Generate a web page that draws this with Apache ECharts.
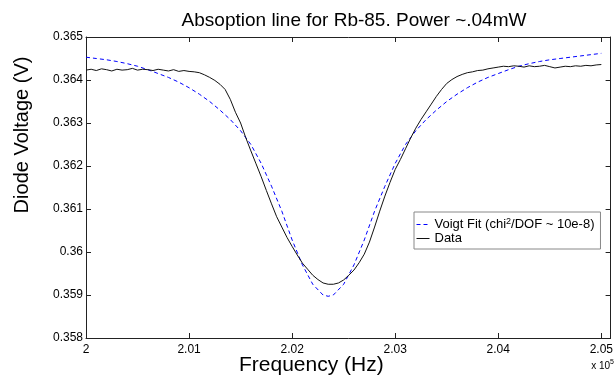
<!DOCTYPE html>
<html>
<head>
<meta charset="utf-8">
<script src="https://cdn.jsdelivr.net/npm/echarts@6/dist/echarts.min.js"></script>
<style>html,body{margin:0;padding:0;background:#fff}#c{width:616px;height:379px}</style>
</head>
<body>
<div id="c"></div>
<script>
// Frequency in units of 1e5 Hz (axis multiplier "x 10^5")
var fitFreq = [2.000,2.001,2.002,2.003,2.004,2.005,2.006,2.007,2.008,2.009,2.010,2.011,2.012,2.013,2.014,2.015,2.016,2.017,2.018,2.019,2.020,2.021,2.022,2.023,2.0235,2.024,2.025,2.026,2.027,2.028,2.029,2.030,2.031,2.032,2.033,2.034,2.035,2.036,2.037,2.038,2.039,2.040,2.041,2.042,2.043,2.044,2.045,2.046,2.047,2.048,2.049,2.050];
var fitVolt = [0.36453,0.36450,0.36447,0.36443,0.36438,0.36432,0.36424,0.36415,0.36406,0.36395,0.36382,0.36367,0.36350,0.36330,0.36308,0.36282,0.36250,0.36206,0.36153,0.36095,0.36028,0.35970,0.35925,0.35900,0.35897,0.35900,0.35925,0.35970,0.36028,0.36095,0.36153,0.36206,0.36250,0.36282,0.36308,0.36330,0.36350,0.36367,0.36382,0.36395,0.36406,0.36415,0.36424,0.36432,0.36438,0.36443,0.36447,0.36450,0.36453,0.36456,0.36459,0.36462];

var dataFreq = [2.0000,2.0005,2.0010,2.0015,2.0020,2.0025,2.0030,2.0035,2.0040,2.0045,2.0050,2.0055,2.0060,2.0065,2.0070,2.0075,2.0080,2.0085,2.0090,2.0095,2.0100,2.0105,2.0110,2.0115,2.0120,2.0125,2.0130,2.0135,2.0140,2.0145,2.0150,2.0155,2.0160,2.0165,2.0170,2.0175,2.0180,2.0185,2.0190,2.0195,2.0200,2.0205,2.0210,2.0215,2.0220,2.0225,2.0230,2.0235,2.0240,2.0245,2.0250,2.0255,2.0260,2.0265,2.0270,2.0275,2.0280,2.0285,2.0290,2.0295,2.0300,2.0305,2.0310,2.0315,2.0320,2.0325,2.0330,2.0335,2.0340,2.0345,2.0350,2.0355,2.0360,2.0365,2.0370,2.0375,2.0380,2.0385,2.0390,2.0395,2.0400,2.0405,2.0410,2.0415,2.0420,2.0425,2.0430,2.0435,2.0440,2.0445,2.0450,2.0455,2.0460,2.0465,2.0470,2.0475,2.0480,2.0485,2.0490,2.0495,2.0500];
var dataVolt = [0.36423,0.36425,0.36422,0.36426,0.36424,0.36421,0.36425,0.36423,0.36424,0.36427,0.36423,0.36425,0.36424,0.36422,0.36425,0.36423,0.36421,0.36424,0.36420,0.36422,0.36420,0.36419,0.36417,0.36412,0.36406,0.36399,0.36390,0.36378,0.36355,0.36325,0.36300,0.36266,0.36235,0.36205,0.36175,0.36143,0.36112,0.36082,0.36058,0.36034,0.36013,0.35993,0.35974,0.35960,0.35946,0.35936,0.35928,0.35925,0.35925,0.35928,0.35935,0.35946,0.35958,0.35975,0.35995,0.36023,0.36058,0.36095,0.36130,0.36162,0.36192,0.36215,0.36240,0.36265,0.36288,0.36308,0.36326,0.36344,0.36362,0.36378,0.36392,0.36401,0.36408,0.36413,0.36417,0.36419,0.36422,0.36423,0.36426,0.36428,0.36430,0.36432,0.36431,0.36433,0.36432,0.36430,0.36433,0.36431,0.36432,0.36434,0.36431,0.36428,0.36430,0.36432,0.36431,0.36433,0.36432,0.36434,0.36433,0.36435,0.36436];

var xTicks = [2, 2.01, 2.02, 2.03, 2.04, 2.05];
var yTicks = [0.358, 0.359, 0.36, 0.361, 0.362, 0.363, 0.364, 0.365];
var fitName = 'Voigt Fit (chi^2/DOF ~ 10e-8)';
var dataName = 'Data';
var titleText = 'Absoption line for Rb-85. Power ~.04mW';
var xLabel = 'Frequency (Hz)';
var yLabel = 'Diode Voltage (V)';

var FONT = 'Liberation Sans, Arial, Helvetica, sans-serif';
var chart = echarts.init(document.getElementById('c'), null, {renderer: 'canvas'});

function fmtX(v) {
  var r = Math.round(v * 100) / 100;
  return r === 2 ? '2' : r.toFixed(2);
}
function fmtY(v) {
  return String(parseFloat(v.toFixed(3)));
}
var axisLineStyle = {color: '#222', width: 1};
var tickStyle = {color: '#222', width: 1};
function xAxisDef(pos, showLabel) {
  return {
    type: 'value', position: pos, min: xTicks[0], max: 2.0509, interval: 0.01,
    splitLine: {show: false},
    axisLine: {show: true, onZero: false, lineStyle: axisLineStyle},
    axisTick: {show: true, inside: true, length: 5, lineStyle: tickStyle},
    axisLabel: {show: showLabel, margin: 6, color: '#000', fontFamily: FONT, fontSize: 12,
      showMaxLabel: false, formatter: fmtX}
  };
}
function yAxisDef(pos, showLabel) {
  return {
    type: 'value', position: pos, min: yTicks[0], max: yTicks[yTicks.length - 1], interval: 0.001,
    splitLine: {show: false},
    axisLine: {show: true, onZero: false, lineStyle: axisLineStyle},
    axisTick: {show: true, inside: true, length: 5, lineStyle: tickStyle},
    axisLabel: {show: showLabel, margin: 3, color: '#000', fontFamily: FONT, fontSize: 12, formatter: fmtY}
  };
}

chart.setOption({
  animation: false,
  backgroundColor: '#fff',
  title: {
    text: titleText, left: 349, top: 6, textAlign: 'center',
    textStyle: {fontFamily: FONT, fontSize: 19, fontWeight: 'normal', color: '#000'}
  },
  grid: {left: 86, right: 3, top: 37, bottom: 41, containLabel: false},
  xAxis: [xAxisDef('bottom', true), xAxisDef('top', false)],
  yAxis: [yAxisDef('left', true), yAxisDef('right', false)],
  legend: {
    orient: 'vertical', left: 414, top: 212,
    backgroundColor: '#fff', borderColor: '#888', borderWidth: 1,
    padding: [5, 6, 4, 2], itemGap: 1, itemWidth: 13, itemHeight: 10,
    itemStyle: {opacity: 0},
    lineStyle: {width: 1},
    data: [fitName, dataName],
    formatter: function (n) {
      if (n === fitName) return '{t|Voigt Fit (chi}{s|2}{t|/DOF ~ 10e-8)}';
      return '{t|' + n + '}';
    },
    textStyle: {
      fontFamily: FONT, fontSize: 13, color: '#000',
      rich: {
        t: {fontFamily: FONT, fontSize: 13, color: '#000', lineHeight: 15},
        s: {fontFamily: FONT, fontSize: 9, color: '#000', verticalAlign: 'top', lineHeight: 15}
      }
    }
  },
  graphic: [
    {type: 'text', left: 311 - 72, top: 355,
      style: {text: xLabel, font: '21px ' + FONT, fill: '#000'}},
    {type: 'text', x: 22, y: 135, rotation: Math.PI / 2,
      style: {text: yLabel, font: '20px ' + FONT, fill: '#000', textAlign: 'center', textVerticalAlign: 'middle'}},
    {type: 'text', right: 2, top: 359,
      style: {
        text: '{a|x 10}{b|5}',
        rich: {
          a: {fontFamily: FONT, fontSize: 10, fill: '#000', lineHeight: 14},
          b: {fontFamily: FONT, fontSize: 7, fill: '#000', verticalAlign: 'top', lineHeight: 14}
        }
      }}
  ],
  series: [
    {
      name: fitName, type: 'line', showSymbol: false, symbol: 'none',
      data: fitFreq.map(function (f, i) { return [f, fitVolt[i]]; }),
      lineStyle: {color: '#0000ff', width: 1, type: [4, 3]},
      itemStyle: {color: '#0000ff'}, z: 2
    },
    {
      name: dataName, type: 'line', showSymbol: false, symbol: 'none',
      data: dataFreq.map(function (f, i) { return [f, dataVolt[i]]; }),
      lineStyle: {color: '#111', width: 1},
      itemStyle: {color: '#111'}, z: 3
    }
  ]
});
</script>
</body>
</html>
